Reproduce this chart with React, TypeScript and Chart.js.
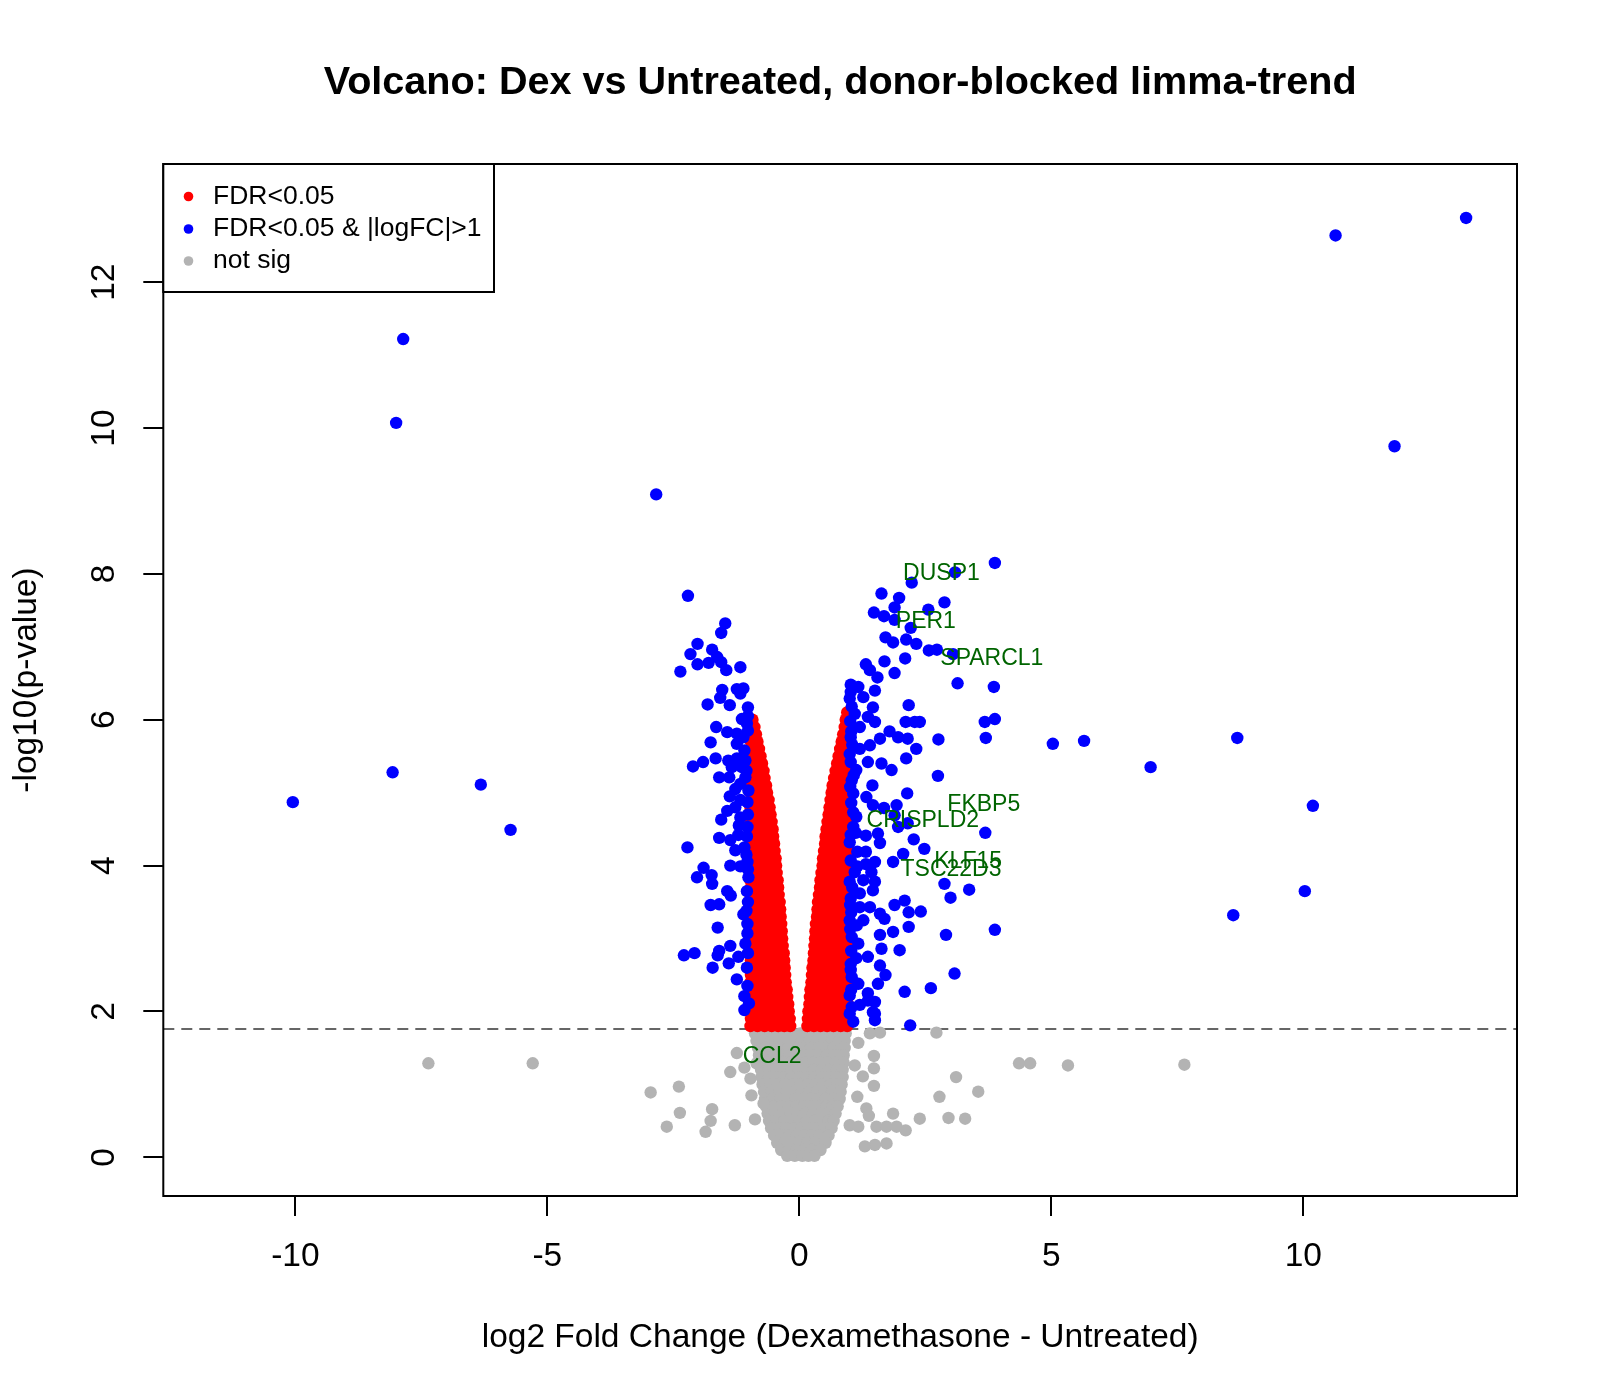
import { useEffect, useRef } from 'react';
import { Chart, registerables } from 'chart.js';

Chart.register(...registerables);

const FONT = '"Liberation Sans", Arial, Helvetica, sans-serif';

const chartTitle = 'Volcano: Dex vs Untreated, donor-blocked limma-trend';
const xTitle = 'log2 Fold Change (Dexamethasone - Untreated)';
const yTitle = '-log10(p-value)';

const xTicks = [-10, -5, 0, 5, 10];
const yTicks = [0, 2, 4, 6, 8, 10, 12];
const pThreshold = 1.76;

const legendLabels = ['FDR<0.05', 'FDR<0.05 & |logFC|>1', 'not sig'];
const legendColors = ['#FF0000', '#0000FF', '#B3B3B3'];

// genes that are written next to their point
const geneNames = ['DUSP1', 'PER1', 'SPARCL1', 'FKBP5', 'CRISPLD2', 'KLF15', 'TSC22D3', 'CCL2'];
const geneX = [2.82, 2.51, 3.82, 3.66, 2.45, 3.35, 3.01, -0.54];
const geneY = [8.0, 7.34, 6.84, 4.83, 4.62, 4.05, 3.94, 1.38];

// FDR<0.05 & |logFC|>1  [logFC, -log10 p]
const bluePoints: number[][] = [
    [13.23, 12.88], [10.64, 12.64], [-7.86, 11.22], [-8.0, 10.07], [11.81, 9.75], [-2.84, 9.09],
    [-10.05, 4.87], [-8.07, 5.28], [-6.32, 5.11], [-5.73, 4.49], [5.03, 5.67], [5.65, 5.71],
    [6.97, 5.35], [8.69, 5.75], [10.19, 4.82], [10.03, 3.65], [8.61, 3.32],
    // right side
    [3.88, 8.15], [3.09, 8.02], [2.23, 7.88], [1.63, 7.73], [1.98, 7.67], [1.89, 7.54], [1.48, 7.47],
    [1.68, 7.42], [1.89, 7.37], [2.56, 7.51], [2.88, 7.61], [2.21, 7.26], [1.71, 7.13], [1.86, 7.06],
    [2.12, 7.10], [2.32, 7.04], [2.57, 6.95], [2.73, 6.96], [3.05, 6.90], [2.10, 6.84], [1.69, 6.80],
    [1.89, 6.64], [1.32, 6.76], [1.40, 6.68], [1.55, 6.58], [1.02, 6.48], [1.17, 6.45], [1.50, 6.40],
    [3.14, 6.50], [3.86, 6.45], [1.00, 6.29], [1.27, 6.31], [1.46, 6.17], [2.17, 6.20], [1.10, 6.08],
    [1.36, 6.04], [1.50, 5.97], [2.11, 5.97], [2.29, 5.97], [2.39, 5.97], [3.68, 5.97], [3.88, 6.01],
    [1.20, 5.90], [1.79, 5.84], [1.60, 5.74], [1.96, 5.76], [2.15, 5.74], [2.76, 5.73], [3.70, 5.75],
    [1.02, 5.76], [1.40, 5.65], [1.20, 5.60], [2.32, 5.60], [1.00, 5.53], [2.12, 5.47], [1.36, 5.42],
    [1.63, 5.40], [1.83, 5.31], [1.13, 5.31], [1.45, 5.10], [1.04, 5.17], [2.75, 5.23], [2.14, 4.99],
    [1.07, 4.99], [1.33, 4.94], [1.46, 4.83], [1.68, 4.79], [1.93, 4.83], [1.89, 4.69], [1.07, 4.73],
    [1.13, 4.67], [1.96, 4.53], [2.15, 4.58], [3.69, 4.45], [1.07, 4.53], [1.32, 4.41], [1.56, 4.44],
    [2.27, 4.36], [2.48, 4.23], [1.00, 4.32], [1.60, 4.31], [1.15, 4.19], [1.32, 4.19], [2.06, 4.16],
    [1.02, 4.07], [1.32, 4.02], [1.50, 4.05], [1.86, 4.05], [1.10, 3.91], [1.43, 3.91], [1.00, 3.78],
    [1.27, 3.80], [1.50, 3.78], [2.88, 3.75], [3.37, 3.67], [3.00, 3.56], [1.20, 3.62], [1.46, 3.66],
    [1.01, 3.46], [1.20, 3.43], [1.40, 3.43], [1.89, 3.46], [2.09, 3.52], [2.17, 3.36], [2.41, 3.37],
    [1.60, 3.34], [1.69, 3.27], [1.00, 3.25], [1.27, 3.25], [2.17, 3.16], [2.91, 3.05], [3.88, 3.12],
    [1.86, 3.09], [1.60, 3.05], [1.04, 3.02], [1.17, 2.93], [1.63, 2.86], [1.99, 2.84], [1.36, 2.75],
    [1.13, 2.73], [1.60, 2.63], [1.02, 2.57], [1.71, 2.50], [3.08, 2.52], [1.17, 2.38], [1.56, 2.38],
    [2.09, 2.27], [2.61, 2.32], [1.00, 2.22], [1.36, 2.25], [1.50, 2.13], [1.04, 2.06], [1.50, 1.97],
    [1.20, 2.09], [1.07, 1.86], [1.00, 1.97], [1.36, 2.15], [1.46, 1.99], [1.50, 1.88], [2.20, 1.81],
    [1.02, 6.38], [1.04, 6.18], [1.01, 5.98], [1.03, 5.84], [1.05, 5.66], [1.02, 5.42], [1.01, 5.08],
    [1.03, 4.86], [1.02, 4.42], [1.05, 3.70], [1.02, 3.55], [1.03, 3.36], [1.01, 3.13], [1.03, 2.83],
    [1.02, 2.65], [1.04, 2.47], [1.03, 2.30], [1.08, 5.24], [1.12, 4.45], [1.15, 3.99], [1.14, 3.18],
    // left side
    [-2.21, 7.70], [-1.47, 7.32], [-1.55, 7.19], [-2.02, 7.04], [-1.73, 6.96], [-2.16, 6.90],
    [-1.63, 6.86], [-2.02, 6.76], [-1.80, 6.78], [-1.55, 6.79], [-1.45, 6.68], [-2.36, 6.66],
    [-1.17, 6.72], [-1.53, 6.41], [-1.24, 6.42], [-1.11, 6.43], [-1.57, 6.30], [-1.17, 6.36],
    [-1.82, 6.21], [-1.38, 6.20], [-1.02, 6.17], [-1.14, 6.01], [-1.04, 5.95], [-1.65, 5.90],
    [-1.43, 5.83], [-1.24, 5.81], [-1.11, 5.76], [-1.76, 5.69], [-1.24, 5.67], [-1.09, 5.58],
    [-1.66, 5.47], [-1.91, 5.42], [-2.11, 5.36], [-1.41, 5.44], [-1.24, 5.47], [-1.07, 5.44],
    [-1.34, 5.35], [-1.14, 5.35], [-1.59, 5.21], [-1.39, 5.21], [-1.07, 5.21], [-1.17, 5.12],
    [-1.01, 5.03], [-1.27, 5.05], [-1.38, 4.95], [-1.17, 4.90], [-1.03, 4.87], [-1.27, 4.80],
    [-1.43, 4.75], [-1.55, 4.63], [-1.17, 4.66], [-1.03, 4.53], [-1.20, 4.55], [-1.59, 4.38],
    [-1.37, 4.35], [-1.21, 4.42], [-2.22, 4.25], [-1.27, 4.21], [-1.09, 4.25], [-1.37, 4.00],
    [-1.17, 3.99], [-1.03, 4.05], [-1.90, 3.97], [-2.03, 3.84], [-1.74, 3.87], [-1.73, 3.75],
    [-1.01, 3.84], [-1.43, 3.65], [-1.36, 3.59], [-1.76, 3.46], [-1.59, 3.47], [-1.11, 3.33],
    [-1.05, 3.38], [-1.62, 3.15], [-1.03, 3.07], [-2.29, 2.77], [-2.08, 2.80], [-1.59, 2.83],
    [-1.37, 2.90], [-1.21, 2.75], [-1.07, 2.93], [-1.62, 2.77], [-1.72, 2.60], [-1.40, 2.66],
    [-1.24, 2.44], [-1.09, 2.21], [-1.09, 2.02], [-1.00, 2.11],
    [-1.02, 5.85], [-1.05, 5.30], [-1.02, 4.70], [-1.04, 4.40], [-1.02, 3.95], [-1.04, 3.65],
    [-1.02, 3.50], [-1.03, 3.20], [-1.02, 2.80], [-1.04, 2.60], [-1.03, 2.35], [-1.02, 6.05],
    [-1.05, 4.15],
];

// FDR<0.05, |logFC|<=1 : one row per -log10 p, then the logFC values in it
const redLeftRows: number[][] = [
    [1.8, -0.97, -0.83, -0.69, -0.55, -0.42, -0.30, -0.18],
    [1.9, -0.96, -0.82, -0.68, -0.54, -0.41, -0.29, -0.19],
    [2.0, -0.97, -0.83, -0.69, -0.56, -0.43, -0.32, -0.21],
    [2.1, -0.95, -0.82, -0.69, -0.56, -0.44, -0.33, -0.22],
    [2.2, -0.97, -0.84, -0.71, -0.58, -0.46, -0.35, -0.24],
    [2.3, -0.96, -0.83, -0.70, -0.57, -0.45, -0.35, -0.25],
    [2.4, -0.97, -0.84, -0.71, -0.59, -0.47, -0.37, -0.27],
    [2.5, -0.96, -0.83, -0.70, -0.58, -0.47, -0.37, -0.28],
    [2.6, -0.97, -0.84, -0.71, -0.59, -0.48, -0.39, -0.29],
    [2.7, -0.96, -0.83, -0.70, -0.58, -0.48, -0.39, -0.30],
    [2.8, -0.97, -0.84, -0.71, -0.59, -0.48, -0.40, -0.31],
    [2.9, -0.96, -0.83, -0.71, -0.60, -0.50, -0.41, -0.33],
    [3.0, -0.97, -0.84, -0.72, -0.61, -0.51, -0.42, -0.34],
    [3.1, -0.96, -0.84, -0.72, -0.61, -0.51, -0.43, -0.35],
    [3.2, -0.97, -0.85, -0.73, -0.62, -0.52, -0.44, -0.36],
    [3.3, -0.96, -0.84, -0.73, -0.62, -0.53, -0.45, -0.37],
    [3.4, -0.97, -0.85, -0.74, -0.63, -0.54, -0.46, -0.38],
    [3.5, -0.96, -0.84, -0.73, -0.63, -0.54, -0.46, -0.39],
    [3.6, -0.97, -0.85, -0.74, -0.64, -0.55, -0.48, -0.41],
    [3.7, -0.96, -0.84, -0.73, -0.64, -0.56, -0.49, -0.42],
    [3.8, -0.97, -0.85, -0.75, -0.66, -0.58, -0.50, -0.43],
    [3.9, -0.96, -0.85, -0.75, -0.66, -0.58, -0.51, -0.45],
    [4.0, -0.97, -0.86, -0.76, -0.67, -0.59, -0.52, -0.46],
    [4.1, -0.96, -0.85, -0.75, -0.67, -0.60, -0.53, -0.47],
    [4.2, -0.97, -0.86, -0.77, -0.68, -0.61, -0.55, -0.49],
    [4.3, -0.96, -0.86, -0.76, -0.68, -0.61, -0.55, -0.50],
    [4.4, -0.97, -0.87, -0.78, -0.70, -0.63, -0.57, -0.52],
    [4.5, -0.96, -0.86, -0.77, -0.69, -0.61, -0.53],
    [4.6, -0.97, -0.87, -0.78, -0.70, -0.63, -0.55],
    [4.7, -0.96, -0.87, -0.78, -0.71, -0.64, -0.57],
    [4.8, -0.97, -0.88, -0.79, -0.72, -0.65, -0.59],
    [4.9, -0.96, -0.87, -0.79, -0.72, -0.66, -0.61],
    [5.0, -0.97, -0.88, -0.80, -0.72, -0.64],
    [5.1, -0.96, -0.88, -0.80, -0.73, -0.66],
    [5.2, -0.97, -0.89, -0.82, -0.75, -0.69],
    [5.3, -0.96, -0.89, -0.82, -0.76, -0.71],
    [5.4, -0.97, -0.90, -0.84, -0.79, -0.74],
    [5.5, -0.96, -0.90, -0.83, -0.77],
    [5.6, -0.97, -0.91, -0.85, -0.80],
    [5.7, -0.96, -0.91, -0.87, -0.83],
    [5.8, -0.97, -0.91, -0.86],
    [5.9, -0.96, -0.92, -0.89],
    [6.0, -0.97, -0.93],
];

const redRightRows: number[][] = [
    [1.8, 0.16, 0.29, 0.42, 0.55, 0.68, 0.82, 0.95],
    [1.9, 0.17, 0.30, 0.43, 0.56, 0.69, 0.83, 0.96],
    [2.0, 0.18, 0.31, 0.44, 0.57, 0.70, 0.84, 0.97],
    [2.1, 0.20, 0.33, 0.46, 0.58, 0.71, 0.84, 0.96],
    [2.2, 0.21, 0.34, 0.47, 0.59, 0.72, 0.85, 0.97],
    [2.3, 0.22, 0.35, 0.48, 0.60, 0.72, 0.84, 0.96],
    [2.4, 0.24, 0.37, 0.49, 0.61, 0.73, 0.85, 0.97],
    [2.5, 0.25, 0.38, 0.50, 0.62, 0.74, 0.85, 0.96],
    [2.6, 0.26, 0.39, 0.51, 0.63, 0.74, 0.86, 0.97],
    [2.7, 0.28, 0.40, 0.52, 0.63, 0.75, 0.86, 0.96],
    [2.8, 0.29, 0.41, 0.53, 0.64, 0.75, 0.86, 0.97],
    [2.9, 0.30, 0.42, 0.54, 0.65, 0.76, 0.86, 0.96],
    [3.0, 0.31, 0.43, 0.55, 0.66, 0.76, 0.87, 0.97],
    [3.1, 0.32, 0.44, 0.56, 0.66, 0.77, 0.87, 0.96],
    [3.2, 0.33, 0.45, 0.56, 0.67, 0.77, 0.87, 0.97],
    [3.3, 0.35, 0.47, 0.58, 0.68, 0.78, 0.87, 0.96],
    [3.4, 0.36, 0.48, 0.59, 0.69, 0.79, 0.88, 0.97],
    [3.5, 0.37, 0.49, 0.60, 0.70, 0.79, 0.88, 0.96],
    [3.6, 0.39, 0.50, 0.61, 0.71, 0.80, 0.89, 0.97],
    [3.7, 0.41, 0.52, 0.62, 0.72, 0.81, 0.89, 0.96],
    [3.8, 0.42, 0.53, 0.63, 0.73, 0.82, 0.90, 0.97],
    [3.9, 0.44, 0.55, 0.65, 0.74, 0.82, 0.90, 0.96],
    [4.0, 0.46, 0.56, 0.66, 0.75, 0.83, 0.90, 0.97],
    [4.1, 0.47, 0.58, 0.67, 0.76, 0.84, 0.91, 0.96],
    [4.2, 0.49, 0.59, 0.68, 0.77, 0.84, 0.91, 0.97],
    [4.3, 0.51, 0.61, 0.70, 0.78, 0.85, 0.91, 0.96],
    [4.4, 0.52, 0.62, 0.71, 0.79, 0.86, 0.92, 0.97],
    [4.5, 0.54, 0.64, 0.72, 0.80, 0.86, 0.92, 0.96],
    [4.6, 0.56, 0.65, 0.73, 0.81, 0.87, 0.93, 0.97],
    [4.7, 0.58, 0.67, 0.75, 0.82, 0.88, 0.93, 0.96],
    [4.8, 0.60, 0.68, 0.76, 0.83, 0.89, 0.94, 0.97],
    [4.9, 0.62, 0.70, 0.77, 0.84, 0.90, 0.96],
    [5.0, 0.64, 0.72, 0.79, 0.85, 0.91, 0.97],
    [5.1, 0.66, 0.74, 0.80, 0.86, 0.92, 0.96],
    [5.2, 0.69, 0.76, 0.82, 0.88, 0.93, 0.97],
    [5.3, 0.72, 0.78, 0.84, 0.89, 0.93, 0.96],
    [5.4, 0.75, 0.80, 0.85, 0.90, 0.94, 0.97],
    [5.5, 0.78, 0.83, 0.87, 0.92, 0.96],
    [5.6, 0.81, 0.85, 0.89, 0.93, 0.97],
    [5.7, 0.84, 0.88, 0.92, 0.96],
    [5.8, 0.87, 0.91, 0.95],
    [5.9, 0.90, 0.94, 0.97],
    [6.0, 0.92, 0.96],
    [6.1, 0.95, 0.97],
];

// not significant: the dense core in rows, then the scattered ones
const grayRows: number[][] = [
    [1.7, -0.88, -0.73, -0.58, -0.43, -0.28, -0.13, 0.02, 0.17, 0.32, 0.47, 0.62, 0.77, 0.92],
    [1.6, -0.85, -0.70, -0.55, -0.40, -0.25, -0.10, 0.05, 0.20, 0.35, 0.50, 0.65, 0.80, 0.90],
    [1.5, -0.82, -0.67, -0.52, -0.37, -0.22, -0.07, 0.08, 0.23, 0.38, 0.53, 0.68, 0.83, 0.90],
    [1.4, -0.80, -0.65, -0.50, -0.35, -0.20, -0.05, 0.10, 0.25, 0.40, 0.55, 0.70, 0.88],
    [1.3, -0.78, -0.63, -0.48, -0.33, -0.18, -0.03, 0.12, 0.27, 0.42, 0.57, 0.72, 0.88],
    [1.2, -0.76, -0.61, -0.46, -0.31, -0.16, -0.01, 0.14, 0.29, 0.44, 0.59, 0.74, 0.86],
    [1.1, -0.75, -0.60, -0.45, -0.30, -0.15, 0.00, 0.15, 0.30, 0.45, 0.60, 0.74, 0.86],
    [1.0, -0.73, -0.58, -0.43, -0.28, -0.13, 0.02, 0.17, 0.32, 0.47, 0.62, 0.76, 0.84],
    [0.9, -0.70, -0.55, -0.40, -0.25, -0.10, 0.05, 0.20, 0.35, 0.50, 0.65, 0.82],
    [0.8, -0.68, -0.53, -0.38, -0.23, -0.08, 0.07, 0.22, 0.37, 0.52, 0.67, 0.80],
    [0.7, -0.66, -0.51, -0.36, -0.21, -0.06, 0.09, 0.24, 0.39, 0.54, 0.66, 0.76],
    [0.6, -0.63, -0.48, -0.33, -0.18, -0.03, 0.12, 0.27, 0.42, 0.57, 0.72],
    [0.5, -0.60, -0.45, -0.30, -0.15, 0.00, 0.15, 0.30, 0.45, 0.58, 0.68],
    [0.4, -0.56, -0.41, -0.26, -0.11, 0.04, 0.19, 0.34, 0.49, 0.64],
    [0.3, -0.50, -0.35, -0.20, -0.05, 0.10, 0.25, 0.40, 0.58],
    [0.2, -0.44, -0.29, -0.14, 0.01, 0.16, 0.31, 0.52],
    [0.1, -0.36, -0.21, -0.06, 0.09, 0.24, 0.42],
    [0.02, -0.24, -0.09, 0.06, 0.18, 0.30],
];

const grayScatter: number[][] = [
    [-7.36, 1.29], [-5.29, 1.29], [-2.95, 0.89], [-2.39, 0.97], [-2.37, 0.61], [-2.63, 0.42],
    [-1.73, 0.66], [-1.76, 0.50], [-1.86, 0.35], [-1.28, 0.44], [-1.37, 1.17], [-1.24, 1.43],
    [-1.09, 1.23], [-0.97, 1.08], [-0.88, 0.52], [-0.71, 0.74], [-0.85, 1.29], [-0.95, 0.85],
    [7.64, 1.27], [5.33, 1.26], [4.36, 1.29], [4.58, 1.29],
    [1.17, 1.57], [1.48, 1.39], [1.48, 0.98], [1.10, 1.26], [1.33, 0.67], [1.38, 0.57], [1.86, 0.60],
    [2.39, 0.53], [2.78, 0.83], [3.11, 1.10], [3.55, 0.90], [2.96, 0.54], [3.29, 0.53], [1.00, 0.44],
    [1.17, 0.42], [1.53, 0.42], [1.73, 0.42], [1.93, 0.42], [2.11, 0.37], [1.73, 0.19], [1.50, 0.17],
    [1.30, 0.15], [2.72, 1.71], [1.60, 1.71], [1.40, 1.70], [1.48, 1.22], [1.26, 1.11], [1.15, 0.83],
];

function rowsToPoints(rows: number[][]) {
    return rows.flatMap(([y, ...xs]) => xs.map(x => ({ x, y })));
}

function pairsToPoints(pairs: number[][]) {
    return pairs.map(([x, y]) => ({ x, y }));
}

const overlay = {
    id: 'volcanoOverlay',
    beforeDatasetsDraw(chart: Chart) {
        const { ctx, chartArea: a } = chart;
        const py = chart.scales.y.getPixelForValue(pThreshold);
        ctx.save();
        ctx.strokeStyle = '#666666';
        ctx.lineWidth = 2;
        ctx.setLineDash([11, 7]);
        ctx.beginPath();
        ctx.moveTo(a.left, py);
        ctx.lineTo(a.right, py);
        ctx.stroke();
        ctx.restore();
    },
    afterDraw(chart: Chart) {
        const { ctx, chartArea: a } = chart;
        const xs = chart.scales.x;
        const ys = chart.scales.y;
        const midX = (a.left + a.right) / 2;
        ctx.save();

        // plot frame
        ctx.strokeStyle = '#000';
        ctx.lineWidth = 2;
        ctx.strokeRect(a.left, a.top, a.right - a.left, a.bottom - a.top);

        ctx.fillStyle = '#000';
        ctx.textAlign = 'center';
        ctx.textBaseline = 'middle';
        ctx.font = `33.5px ${FONT}`;
        xTicks.forEach(v => ctx.fillText(String(v), xs.getPixelForValue(v), 1257));
        yTicks.forEach(v => {
            ctx.save();
            ctx.translate(105, ys.getPixelForValue(v));
            ctx.rotate(-Math.PI / 2);
            ctx.fillText(String(v), 0, 0);
            ctx.restore();
        });
        ctx.fillText(xTitle, midX, 1338);
        ctx.save();
        ctx.translate(27, (a.top + a.bottom) / 2);
        ctx.rotate(-Math.PI / 2);
        ctx.fillText(yTitle, 0, 0);
        ctx.restore();

        ctx.font = `bold 39.6px ${FONT}`;
        ctx.fillText(chartTitle, midX, 83);

        // gene labels
        ctx.font = `23px ${FONT}`;
        ctx.fillStyle = '#006400';
        geneNames.forEach((g, i) => {
            ctx.fillText(g, xs.getPixelForValue(geneX[i]), ys.getPixelForValue(geneY[i]));
        });

        // legend
        const legRight = 494;
        const legBottom = 292;
        ctx.fillStyle = '#fff';
        ctx.fillRect(a.left, a.top, legRight - a.left, legBottom - a.top);
        ctx.strokeStyle = '#000';
        ctx.lineWidth = 2;
        ctx.strokeRect(a.left, a.top, legRight - a.left, legBottom - a.top);
        ctx.font = `26.5px ${FONT}`;
        ctx.textAlign = 'left';
        const rowY = [196.5, 229, 261];
        legendLabels.forEach((label, i) => {
            ctx.fillStyle = legendColors[i];
            ctx.beginPath();
            ctx.arc(188.5, rowY[i], 4.8, 0, Math.PI * 2);
            ctx.fill();
            ctx.fillStyle = '#000';
            ctx.fillText(label, 213, rowY[i]);
        });

        ctx.restore();
    },
};

export default function App() {
    const canvasRef = useRef<HTMLCanvasElement>(null);

    useEffect(() => {
        if (!canvasRef.current) return;

        const axisGrid = {
            display: true,
            drawOnChartArea: false,
            drawTicks: true,
            tickLength: 20,
            color: '#000',
            lineWidth: 2,
        };

        const chart = new Chart(canvasRef.current, {
            type: 'scatter',
            data: {
                datasets: [
                    {
                        label: legendLabels[1],
                        data: pairsToPoints(bluePoints),
                        backgroundColor: legendColors[1],
                        borderWidth: 0,
                        pointRadius: 6.2,
                    },
                    {
                        label: legendLabels[0],
                        data: [...rowsToPoints(redLeftRows), ...rowsToPoints(redRightRows)],
                        backgroundColor: legendColors[0],
                        borderWidth: 0,
                        pointRadius: 6.2,
                    },
                    {
                        label: legendLabels[2],
                        data: [...rowsToPoints(grayRows), ...pairsToPoints(grayScatter)],
                        backgroundColor: legendColors[2],
                        borderWidth: 0,
                        pointRadius: 6.2,
                    },
                ],
            },
            options: {
                animation: false,
                responsive: false,
                devicePixelRatio: 1,
                events: [],
                layout: { padding: { top: 164, right: 83, left: 0, bottom: 0 } },
                plugins: {
                    legend: { display: false },
                    tooltip: { enabled: false },
                    title: { display: false },
                },
                scales: {
                    x: {
                        type: 'linear',
                        min: -12.62,
                        max: 14.24,
                        afterBuildTicks: (scale: any) => {
                            scale.ticks = xTicks.map(value => ({ value }));
                        },
                        afterFit: (scale: any) => {
                            scale.height = 204;
                        },
                        grid: axisGrid,
                        border: { display: false },
                        ticks: { display: false },
                    },
                    y: {
                        type: 'linear',
                        min: -0.53,
                        max: 13.62,
                        afterBuildTicks: (scale: any) => {
                            scale.ticks = yTicks.map(value => ({ value }));
                        },
                        afterFit: (scale: any) => {
                            scale.width = 163.3;
                        },
                        grid: axisGrid,
                        border: { display: false },
                        ticks: { display: false },
                    },
                },
            },
            plugins: [overlay],
        });

        return () => {
            chart.destroy();
        };
    }, []);

    return (
        <div style={{ position: 'absolute', left: 0, top: 0, width: 1600, height: 1400, background: '#fff' }}>
            <canvas ref={canvasRef} width={1600} height={1400} style={{ display: 'block', width: 1600, height: 1400 }}></canvas>
        </div>
    );
}
